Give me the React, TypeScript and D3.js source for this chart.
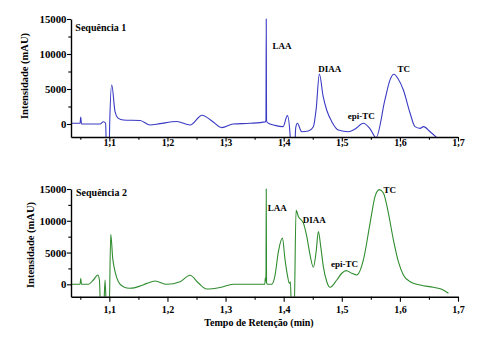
import React, { useEffect, useRef } from "react"
import {
  axisBottom,
  axisLeft,
  curveMonotoneX,
  line,
  scaleLinear,
  select,
  Selection,
} from "d3"

// Sequência 1 (blue) — retention time (min) / intensity (mAU)
const seq1Time = [
  1.034, 1.0496, 1.0508, 1.052, 1.0667, 1.084, 1.0897, 1.0935, 1.0955, 1.0995,
  1.1005, 1.1041, 1.1098, 1.1155, 1.124, 1.153, 1.17, 1.187, 1.216, 1.239,
  1.2596, 1.277, 1.2935, 1.313, 1.342, 1.3685, 1.3695, 1.37, 1.3705, 1.372,
  1.385, 1.399, 1.4064, 1.411, 1.4127, 1.418, 1.4208, 1.4236, 1.431, 1.4425,
  1.4511, 1.456, 1.4614, 1.468, 1.474, 1.4828, 1.494, 1.5114, 1.523, 1.5372,
  1.5487, 1.559, 1.5742, 1.583, 1.5897, 1.5966, 1.606, 1.6176, 1.626, 1.6348,
  1.6404, 1.652, 1.6635,
]
const seq1Value = [
  100, 100, 1000, 0, 0, 0, 330, 100, -5000, -5000,
  -300, 5600, 1760, 810, 570, 500, -150, 50, 350, -150,
  1250, 400, -520, 0, 100, 300, 600, 15000, 500, 200,
  -200, -380, 1190, -1500, -5000, -5000, -500, 100, -1100, -1000,
  -380, 2200, 7140, 3900, 2000, 330, -860, -1100, -700, 100,
  -700, -1950, 3430, 6300, 7100, 6500, 4860, 1530, -380, -620,
  -380, -1100, -1950,
]

// Sequência 2 (green)
const seq2Time = [
  1.034, 1.0496, 1.0508, 1.052, 1.0639, 1.0725, 1.0801, 1.0829, 1.0853, 1.0897,
  1.0926, 1.0955, 1.0995, 1.1024, 1.1058, 1.1098, 1.1155, 1.124, 1.1355, 1.153,
  1.1644, 1.1787, 1.1988, 1.2217, 1.2389, 1.2532, 1.2676, 1.2905, 1.3134, 1.34,
  1.3675, 1.3685, 1.3695, 1.37, 1.3705, 1.372, 1.3795, 1.3852, 1.3909, 1.3978,
  1.4024, 1.4064, 1.4098, 1.4115, 1.4139, 1.4179, 1.4213, 1.4253, 1.4339, 1.4398,
  1.4454, 1.4511, 1.4557, 1.4597, 1.4638, 1.4683, 1.4742, 1.4799, 1.4914, 1.5,
  1.5074, 1.5172, 1.5258, 1.5372, 1.5487, 1.5573, 1.5647, 1.5716, 1.5802, 1.5888,
  1.5974, 1.606, 1.6176, 1.6348, 1.6577, 1.6721, 1.6835,
]
const seq2Value = [
  0, 0, 950, 0, 0, 680, 1460, 680, -5000, -5000,
  680, -5000, -5000, 7860, 4090, 1980, 410, -380, -630, -270,
  150, 520, 0, 400, 1420, 200, -740, -500, 0, 0,
  0, 1040, 500, 15000, 300, 0, 0, 1460, 5130, 7270,
  3840, 1460, 150, 400, -5000, -5000, 11630, 10680, 9630, 7520,
  4630, 2680, 5000, 8310, 5940, 2780, 410, -470, 680, 1740,
  2150, 1740, 1470, 3840, 9630, 13840, 14900, 14380, 11220, 7000,
  3570, 1470, 410, -110, -470, -790, -1420,
]

// peak labels, anchored at (time, intensity)
const peakLabels = ["LAA", "DIAA", "epi-TC", "TC"]
const seq1LabelTime = [1.3806, 1.4597, 1.5103, 1.5957]
const seq1LabelValue = [10714, 7471, 714, 7471]
const seq2LabelTime = [1.3726, 1.4329, 1.4816, 1.5716]
const seq2LabelValue = [11572, 9591, 2673, 14403]

const xTicks = [1.1, 1.2, 1.3, 1.4, 1.5, 1.6, 1.7]
const xMinorTicks = [1.05, 1.15, 1.25, 1.35, 1.45, 1.55, 1.65]
const yTicks = [0, 5000, 10000, 15000]
const yMinorTicks = [2500, 7500, 12500]

const FONT = "'Liberation Serif', 'DejaVu Serif', 'Noto Serif', serif"

type Panel = {
  title: string
  titleTime: number
  titleValue: number
  time: number[]
  value: number[]
  labelTime: number[]
  labelValue: number[]
  color: string
  yTop: number
  yBottom: number
  yMin: number
  xLabelY: number
  tickLen: number
  titleX: number
  titleY: number
  clipId: string
}

const panels: Panel[] = [
  {
    title: "Sequência 1",
    titleTime: 1.0415,
    titleValue: 13329,
    time: seq1Time,
    value: seq1Value,
    labelTime: seq1LabelTime,
    labelValue: seq1LabelValue,
    color: "#3a3ac4",
    yTop: 19,
    yBottom: 137,
    yMin: -1857,
    xLabelY: 146,
    tickLen: 4.5,
    titleX: 27.5,
    titleY: 76,
    clipId: "clip1",
  },
  {
    title: "Sequência 2",
    titleTime: 1.0427,
    titleValue: 13884,
    time: seq2Time,
    value: seq2Value,
    labelTime: seq2LabelTime,
    labelValue: seq2LabelValue,
    color: "#2f8c2f",
    yTop: 189,
    yBottom: 296.7,
    yMin: -1950,
    xLabelY: 313,
    tickLen: 5,
    titleX: 33.5,
    titleY: 245,
    clipId: "clip2",
  },
]

const App = () => {
  const svgRef = useRef<SVGSVGElement>(null)

  useEffect(() => {
    document.body.style.margin = "0"
    const element = svgRef.current
    if (!element) return
    const svg = select(element)
    svg.selectAll("*").remove()

    const xScale = scaleLinear().domain([1.034, 1.7]).range([71, 458])
    const fmt = (d: any) => Number(d).toFixed(1).replace(".", ",")

    const styleText = (sel: any, size: number) =>
      sel
        .attr("font-family", null)
        .style("font-family", FONT)
        .style("font-weight", "bold")
        .style("font-size", `${size}px`)
        .attr("fill", "#000")

    const drawPanel = (
      root: Selection<SVGSVGElement, unknown, null, undefined>,
      p: Panel,
    ) => {
      const yScale = scaleLinear()
        .domain([p.yMin, 15000])
        .range([p.yBottom, p.yTop])

      root
        .append("clipPath")
        .attr("id", p.clipId)
        .append("rect")
        .attr("x", 71)
        .attr("y", p.yTop - 4)
        .attr("width", 387)
        .attr("height", p.yBottom - p.yTop + 4)

      // trace
      const pts = p.time.map((t, i) => [t, p.value[i]] as [number, number])
      const path = line<[number, number]>()
        .x((d) => xScale(d[0]))
        .y((d) => yScale(d[1]))
        .curve(curveMonotoneX)
      root
        .append("path")
        .attr("d", path(pts) ?? "")
        .attr("fill", "none")
        .attr("stroke", p.color)
        .attr("stroke-width", 1.1)
        .attr("clip-path", `url(#${p.clipId})`)

      // x axis
      const xMinor = root
        .append("g")
        .attr("transform", `translate(0,${p.yBottom})`)
        .call(
          axisBottom(xScale)
            .tickValues(xMinorTicks)
            .tickSize(p.tickLen * 0.6)
            .tickFormat(() => ""),
        )
      xMinor.select(".domain").remove()

      const xAxis = root
        .append("g")
        .attr("transform", `translate(0,${p.yBottom})`)
        .call(
          axisBottom(xScale)
            .tickValues(xTicks)
            .tickSize(p.tickLen)
            .tickSizeOuter(0)
            .tickFormat(fmt),
        )
      xAxis.attr("font-family", null)
      styleText(
        xAxis
          .selectAll("text")
          .attr("y", p.xLabelY - p.yBottom)
          .attr("dy", null),
        10,
      )

      // y axis
      const yMinor = root
        .append("g")
        .attr("transform", "translate(71,0)")
        .call(
          axisLeft(yScale)
            .tickValues(yMinorTicks)
            .tickSize(2.7)
            .tickFormat(() => ""),
        )
      yMinor.select(".domain").remove()

      const yAxis = root
        .append("g")
        .attr("transform", "translate(71,0)")
        .call(
          axisLeft(yScale)
            .tickValues(yTicks)
            .tickSize(4)
            .tickSizeOuter(0)
            .tickPadding(0.5)
            .tickFormat((d: any) => String(d)),
        )
      yAxis.attr("font-family", null)
      styleText(yAxis.selectAll("text"), 10.8)

      root.selectAll(".domain").attr("stroke-width", 1.4)
      root.selectAll(".tick line").attr("stroke-width", 1.1)

      // y title
      styleText(
        root
          .append("text")
          .attr("transform", `translate(${p.titleX},${p.titleY}) rotate(-90)`)
          .attr("text-anchor", "middle")
          .text("Intensidade (mAU)"),
        10.5,
      )

      // panel title
      styleText(
        root
          .append("text")
          .attr("x", xScale(p.titleTime))
          .attr("y", yScale(p.titleValue))
          .text(p.title),
        10,
      )

      // peak labels
      styleText(
        root
          .append("g")
          .selectAll("text")
          .data(peakLabels)
          .join("text")
          .attr("x", (_, i) => xScale(p.labelTime[i]))
          .attr("y", (_, i) => yScale(p.labelValue[i]))
          .text((d) => d),
        9,
      )
    }

    panels.forEach((p) => drawPanel(svg, p))

    // x title
    styleText(
      svg
        .append("text")
        .attr("x", 259)
        .attr("y", 326)
        .attr("text-anchor", "middle")
        .text("Tempo de Retenção (min)"),
      10,
    )
  }, [])

  return (
    <svg
      ref={svgRef}
      width={480}
      height={352}
      style={{ display: "block", background: "#fff" }}
    />
  )
}

export default App
